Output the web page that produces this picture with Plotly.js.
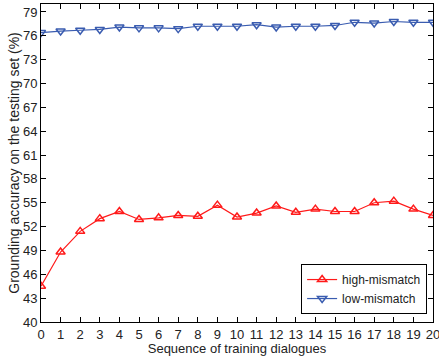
<!DOCTYPE html>
<html><head><meta charset="utf-8">
<script src="https://cdn.plot.ly/plotly-3.0.1.min.js"></script>
<style>html,body{margin:0;padding:0;background:#fff}#chart{width:439px;height:356px}</style>
</head><body><div id="chart"></div>
<script>
const xs = [0,1,2,3,4,5,6,7,8,9,10,11,12,13,14,15,16,17,18,19,20];
const highMismatch = [44.5,48.8,51.4,53.0,53.9,52.9,53.1,53.4,53.3,54.7,53.2,53.7,54.6,53.8,54.2,53.9,53.9,55.0,55.2,54.2,53.4];
const lowMismatch = [76.4,76.6,76.7,76.8,77.1,77.0,77.0,76.9,77.2,77.2,77.2,77.4,77.1,77.2,77.2,77.3,77.7,77.6,77.8,77.7,77.7];
const yTicks = [40,43,46,49,52,55,58,61,64,67,70,73,76,79];

const font = {family:'Liberation Sans, Arial, sans-serif', size:13, color:'#222'};
const traces = [
 {x:xs, y:highMismatch, name:'high-mismatch', mode:'lines+markers',
  line:{color:'#ff1a1a', width:1.2},
  marker:{symbol:'triangle-up-open', size:8, color:'#ff1a1a', line:{width:1.5}}},
 {x:xs, y:lowMismatch, name:'low-mismatch', mode:'lines+markers',
  line:{color:'#3a5cb0', width:1.2},
  marker:{symbol:'triangle-down-open', size:8, color:'#3a5cb0', line:{width:1.5}}}
];
const layout = {
 width:439, height:356,
 margin:{l:41, r:6, t:4, b:34},
 paper_bgcolor:'#fff', plot_bgcolor:'#fff',
 font:font,
 showlegend:true,
 legend:{x:0.985, y:0.025, xanchor:'right', yanchor:'bottom', bordercolor:'#000', borderwidth:1,
   bgcolor:'#fff', font:{family:'Liberation Sans, Arial, sans-serif', size:12, color:'#222'},
   tracegroupgap:0, itemwidth:30},
 xaxis:{range:[0,20], tickmode:'array', tickvals:xs, ticks:'inside', ticklen:5, tickcolor:'#000',
   ticklabeloverflow:'allow',
   showline:true, linecolor:'#000', linewidth:1, mirror:'allticks', showgrid:false, zeroline:false,
   title:{text:'Sequence of training dialogues', font:font, standoff:2}},
 yaxis:{range:[40,80], tickmode:'array', tickvals:yTicks, ticks:'inside', ticklen:5, tickcolor:'#000',
   ticklabelstandoff:0,
   showline:true, linecolor:'#000', linewidth:1, mirror:'allticks', showgrid:false, zeroline:false,
   title:{text:'Grounding accuracy on the testing set (%)', font:{family:font.family, size:14, color:'#222'}, standoff:0}}
};
Plotly.newPlot('chart', traces, layout, {displayModeBar:false, staticPlot:true});
</script></body></html>
